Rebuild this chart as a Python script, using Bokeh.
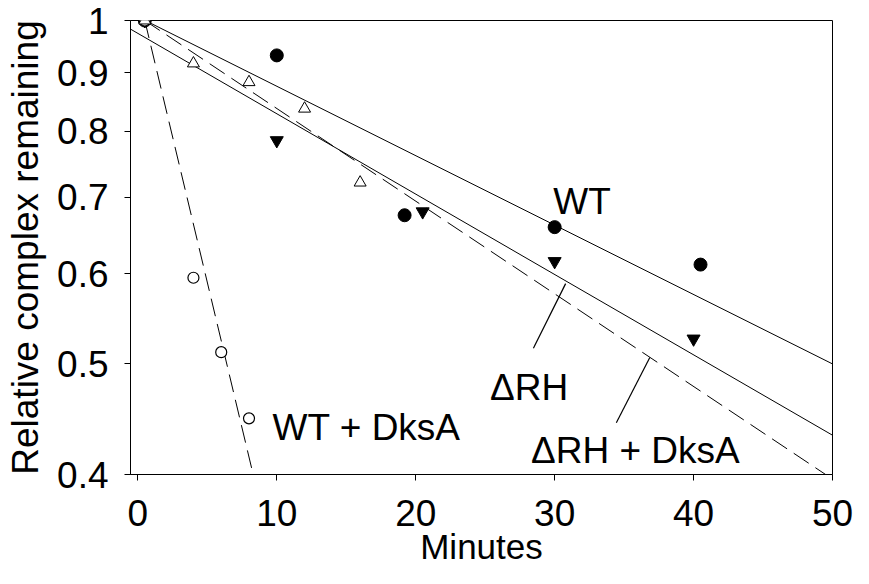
import numpy as np
from bokeh.plotting import figure
from bokeh.models import Range1d, FixedTicker, CustomJSTickFormatter
from bokeh.core.properties import value
from bokeh.embed import file_html
from bokeh.resources import INLINE

# ---- data ----
wt_t = [0.5, 10.0, 19.2, 30.0, 40.5]
wt_v = [1.0, 0.932, 0.675, 0.659, 0.611]

rh_t = [0.5, 10.0, 20.5, 30.0, 40.0]
rh_v = [1.0, 0.785, 0.680, 0.615, 0.526]

rhd_t = [0.5, 4.0, 8.0, 12.0, 16.0]
rhd_v = [1.0, 0.917, 0.883, 0.837, 0.721]

wtd_t = [0.5, 4.0, 6.0, 8.0]
wtd_v = [1.0, 0.595, 0.512, 0.448]

# exponential fits: ln(v) = a + b*t
fit_names = ["WT", "ΔRH", "ΔRH + DksA", "WT + DksA"]
fit_a = [0.0074, -0.0260, 0.0094, 0.0588]
fit_b = [-0.01401, -0.01622, -0.0187, -0.1175]
fit_t0 = [0.5, -0.53, 0.5, 0.5]
fit_t1 = [50.0, 50.0, 50.0, 8.6]
fit_dash = ["solid", "solid", "18 8", "18 8"]

# callout leader lines
callout_t = [[28.47, 30.79], [34.44, 36.85]]
callout_v = [[0.516, 0.588], [0.444, 0.5065]]

# series labels
label_text = ["WT", "ΔRH", "WT + DksA", "ΔRH + DksA"]
label_t = [29.9, 25.35, 9.7, 28.3]
label_v = [0.694, 0.477, 0.4396, 0.420]

x_ticks = [0, 10, 20, 30, 40, 50]
y_ticks = [0.4, 0.5, 0.6, 0.7, 0.8, 0.9, 1.0]

X_MIN, X_MAX = -0.53, 50.0
Y_MIN, Y_MAX = 0.4, 1.0

FONT = "Liberation Sans"
FS = "37px"

p = figure(width=853, height=568,
           x_range=Range1d(X_MIN, X_MAX), y_range=Range1d(Y_MIN, Y_MAX),
           y_axis_type="log", output_backend="svg", toolbar_location=None,
           min_border_left=130, min_border_right=21,
           min_border_top=20, min_border_bottom=92)

p.grid.visible = False
p.outline_line_color = "black"
p.outline_line_width = 1
p.background_fill_color = "white"
p.border_fill_color = "white"

for ax in (p.xaxis[0], p.yaxis[0]):
    ax.axis_line_color = "black"
    ax.axis_line_width = 1
    ax.major_tick_line_color = "black"
    ax.major_tick_in = 0
    ax.major_tick_out = 6
    ax.minor_tick_line_color = None
    ax.major_label_text_font = FONT
    ax.major_label_text_font_size = FS
    ax.major_label_text_color = "black"
    ax.axis_label_text_font = FONT
    ax.axis_label_text_font_style = "normal"
    ax.axis_label_text_color = "black"

p.xaxis.ticker = FixedTicker(ticks=x_ticks)
p.xaxis.major_label_standoff = 19
p.xaxis.axis_label = "Minutes"
p.xaxis.axis_label_text_font_size = "35px"
p.xaxis.axis_label_standoff = -2

p.yaxis.ticker = FixedTicker(ticks=y_ticks)
p.yaxis.formatter = CustomJSTickFormatter(code="return String(parseFloat(tick.toPrecision(2)));")
p.yaxis.major_label_standoff = 16
p.yaxis.axis_label = "Relative complex remaining"
p.yaxis.axis_label_text_font_size = FS
p.yaxis.axis_label_standoff = 8

# fit lines
for a, b, t0, t1, d in zip(fit_a, fit_b, fit_t0, fit_t1, fit_dash):
    tt = np.array([t0, t1])
    p.line(tt, np.exp(a + b * tt), line_color="black", line_width=1, line_dash=d)

# callouts
p.multi_line(callout_t, callout_v, line_color="black", line_width=1.2)

# markers
p.scatter(wt_t, wt_v, marker="circle", size=13, fill_color="black", line_color="black")
p.scatter(rh_t, rh_v, marker="inverted_triangle", size=13, fill_color="black", line_color="black")
p.scatter(wtd_t, wtd_v, marker="circle", size=11, fill_color="white", line_color="black", line_width=1.2)
p.scatter(rhd_t, rhd_v, marker="triangle", size=12, fill_color="white", line_color="black", line_width=1)

p.text(label_t, label_v, text=label_text, text_font=value(FONT), text_font_size=FS,
       text_align="left", text_baseline="alphabetic", text_color="black")

open("out.html", "w").write(file_html(p, INLINE))
